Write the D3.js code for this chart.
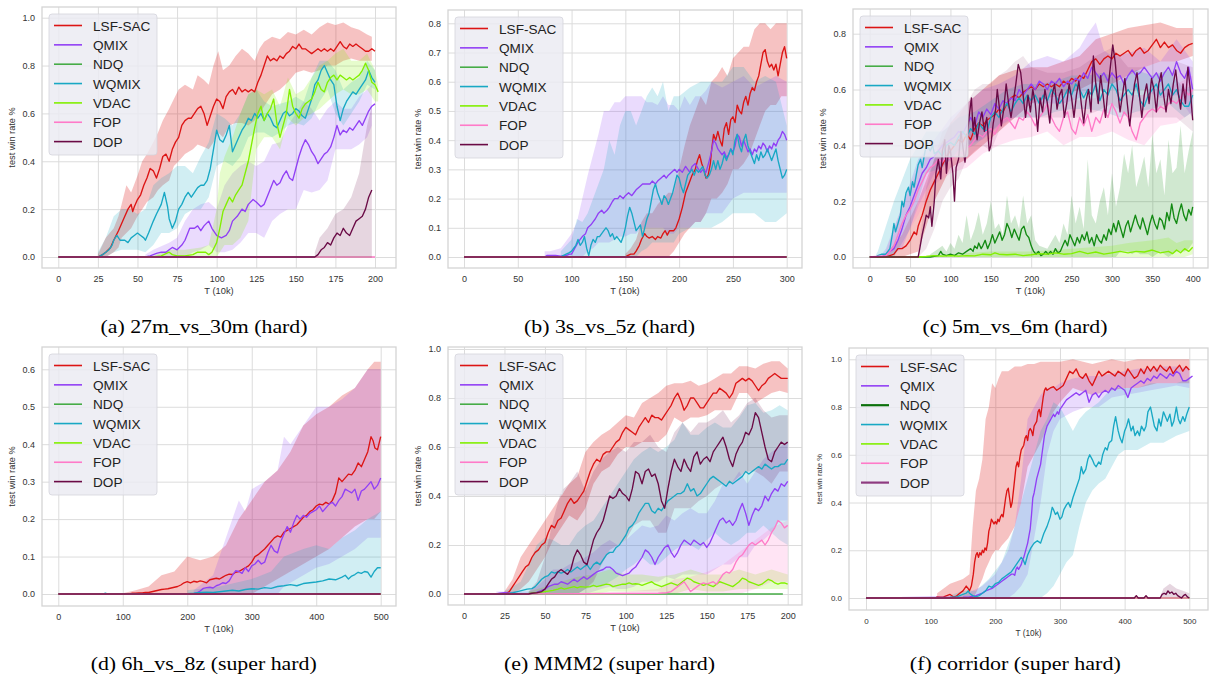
<!DOCTYPE html>
<html><head><meta charset="utf-8">
<script src="https://cdn.jsdelivr.net/npm/d3@7"></script>
<style>body{margin:0;background:#fff;} svg{display:block;}</style>
</head><body><svg id="c" width="1210" height="677"></svg>
<script>
// ---------- categories ----------
const seriesNames = ["LSF-SAC","QMIX","NDQ","WQMIX","VDAC","FOP","DOP"];
const seriesColors = ["#dc1414","#9140f5","#46ac46","#18a8c4","#82ef00","#ff7ac8","#6a0a45"];
const bandAlpha = [0.26,0.19,0.2,0.2,0.2,0.2,0.17];

// ---------- (a) 27m_vs_30m ----------
const a_lsf = [[0,0],[25,0],[28,0.01],[30,0.02],[33,0.04],[35,0.07],[38,0.11],[40,0.14],[42,0.17],[44,0.2],[46,0.22],[47,0.19],[48,0.21],[50,0.24],[52,0.26],[54,0.3],[56,0.33],[58,0.37],[60,0.36],[62,0.33],[64,0.37],[66,0.42],[68,0.43],[70,0.4],[72,0.45],[74,0.48],[76,0.5],[78,0.55],[80,0.57],[82,0.58],[84,0.58],[86,0.6],[88,0.62],[90,0.63],[92,0.6],[94,0.55],[96,0.59],[98,0.63],[100,0.66],[102,0.65],[104,0.62],[106,0.67],[108,0.69],[110,0.7],[112,0.68],[114,0.71],[116,0.69],[118,0.7],[120,0.69],[122,0.7],[124,0.69],[126,0.73],[128,0.76],[130,0.8],[132,0.84],[134,0.82],[136,0.83],[138,0.82],[140,0.84],[142,0.83],[144,0.85],[146,0.86],[148,0.88],[150,0.87],[152,0.89],[154,0.87],[156,0.87],[158,0.86],[160,0.85],[162,0.86],[164,0.87],[166,0.86],[168,0.87],[170,0.86],[172,0.87],[174,0.86],[176,0.88],[178,0.9],[180,0.88],[182,0.87],[184,0.89],[186,0.88],[188,0.89],[190,0.88],[192,0.87],[194,0.86],[196,0.86],[198,0.87],[200,0.86]];
const a_lsf_band = [[25,0,0.01],[30,0,0.08],[35,0.02,0.12],[38,0.04,0.17],[40,0.08,0.22],[43,0.1,0.3],[46,0.12,0.27],[50,0.17,0.34],[53,0.2,0.4],[56,0.23,0.43],[60,0.25,0.48],[63,0.28,0.52],[66,0.3,0.57],[70,0.32,0.62],[73,0.38,0.66],[76,0.4,0.7],[80,0.43,0.72],[85,0.45,0.7],[88,0.47,0.76],[92,0.46,0.74],[95,0.45,0.72],[98,0.48,0.8],[101,0.52,0.86],[104,0.5,0.78],[108,0.55,0.8],[112,0.56,0.84],[116,0.56,0.87],[120,0.55,0.85],[124,0.57,0.82],[127,0.6,0.87],[130,0.63,0.9],[135,0.68,0.92],[140,0.7,0.91],[145,0.73,0.94],[150,0.77,0.93],[155,0.78,0.95],[160,0.77,0.93],[165,0.78,0.96],[170,0.8,0.98],[175,0.8,0.97],[180,0.82,0.98],[185,0.83,0.96],[190,0.82,0.95],[195,0.82,0.93],[198,0.82,0.92]];
const a_qmix = [[0,0],[55,0],[58,0.005],[62,0.015],[65,0.02],[68,0.02],[70,0.03],[72,0.04],[75,0.03],[78,0.05],[80,0.07],[83,0.12],[86,0.12],[88,0.13],[90,0.11],[92,0.13],[95,0.15],[97,0.12],[100,0.09],[103,0.08],[106,0.09],[108,0.11],[110,0.15],[113,0.17],[116,0.2],[118,0.19],[120,0.22],[123,0.24],[125,0.23],[128,0.21],[130,0.22],[133,0.27],[136,0.32],[138,0.3],[140,0.31],[142,0.34],[144,0.36],[146,0.33],[148,0.32],[150,0.37],[152,0.42],[154,0.46],[156,0.49],[158,0.47],[160,0.44],[162,0.42],[164,0.39],[166,0.41],[168,0.43],[170,0.44],[172,0.46],[174,0.5],[176,0.55],[178,0.51],[180,0.53],[182,0.52],[184,0.54],[186,0.53],[188,0.55],[190,0.57],[192,0.55],[194,0.58],[196,0.61],[198,0.63],[200,0.64]];
const a_qmix_band = [[55,0,0.01],[60,0,0.03],[70,0,0.06],[75,0,0.08],[80,0,0.15],[85,0.02,0.2],[90,0.03,0.22],[95,0.05,0.23],[100,0.02,0.2],[105,0.02,0.3],[110,0.03,0.35],[115,0.06,0.38],[120,0.1,0.4],[125,0.1,0.38],[130,0.08,0.4],[135,0.15,0.47],[140,0.18,0.48],[145,0.2,0.55],[150,0.2,0.6],[155,0.28,0.65],[160,0.27,0.62],[165,0.28,0.57],[170,0.32,0.62],[175,0.45,0.65],[180,0.45,0.62],[185,0.45,0.62],[190,0.47,0.67],[195,0.5,0.7],[198,0.55,0.72]];
const a_ndq = [[0,0],[198,0]];
const a_wq = [[0,0],[25,0],[28,0.01],[30,0.02],[32,0.03],[34,0.05],[35,0.07],[37,0.09],[39,0.07],[42,0.07],[44,0.06],[46,0.08],[48,0.09],[50,0.1],[52,0.09],[54,0.08],[55,0.07],[57,0.1],[60,0.15],[62,0.18],[65,0.22],[67,0.27],[69,0.21],[70,0.16],[72,0.12],[74,0.15],[76,0.2],[78,0.22],[80,0.25],[82,0.27],[84,0.25],[86,0.27],[88,0.29],[90,0.3],[92,0.3],[94,0.32],[96,0.37],[98,0.45],[100,0.53],[102,0.49],[104,0.48],[106,0.51],[108,0.55],[110,0.44],[112,0.47],[114,0.5],[116,0.53],[118,0.55],[120,0.58],[122,0.57],[124,0.6],[126,0.58],[128,0.6],[130,0.57],[132,0.6],[134,0.58],[136,0.55],[138,0.54],[140,0.57],[142,0.6],[144,0.61],[146,0.59],[148,0.6],[150,0.62],[152,0.61],[154,0.59],[156,0.58],[158,0.62],[160,0.66],[162,0.72],[164,0.74],[166,0.78],[168,0.8],[170,0.77],[172,0.74],[174,0.72],[176,0.63],[178,0.57],[180,0.62],[182,0.65],[184,0.67],[186,0.69],[188,0.68],[190,0.7],[192,0.72],[194,0.74],[196,0.78],[198,0.75],[200,0.73]];
const a_wq_band = [[25,0,0.02],[30,0,0.08],[35,0.02,0.17],[40,0.03,0.2],[45,0.03,0.2],[50,0.03,0.18],[55,0.02,0.2],[60,0.05,0.3],[65,0.1,0.33],[70,0.1,0.35],[75,0.12,0.38],[80,0.18,0.38],[85,0.2,0.35],[90,0.2,0.42],[95,0.25,0.48],[100,0.38,0.6],[105,0.4,0.58],[110,0.38,0.55],[115,0.42,0.6],[120,0.5,0.68],[125,0.52,0.7],[130,0.52,0.65],[135,0.5,0.63],[140,0.52,0.64],[145,0.55,0.65],[150,0.56,0.67],[155,0.55,0.65],[160,0.58,0.75],[165,0.65,0.82],[170,0.7,0.82],[175,0.6,0.78],[180,0.55,0.7],[185,0.6,0.73],[190,0.65,0.75],[195,0.72,0.82],[200,0.7,0.78]];
const a_vdac = [[0,0],[60,0],[65,0.005],[70,0.02],[72,0.01],[75,0.005],[80,0.005],[85,0.01],[88,0.02],[90,0.02],[93,0.02],[95,0.01],[97,0.02],[100,0.06],[102,0.12],[104,0.19],[106,0.22],[108,0.25],[110,0.23],[112,0.26],[114,0.28],[116,0.3],[118,0.35],[120,0.4],[122,0.47],[124,0.54],[126,0.6],[128,0.63],[130,0.57],[132,0.6],[134,0.62],[136,0.66],[138,0.56],[140,0.5],[142,0.55],[144,0.6],[146,0.7],[148,0.63],[150,0.6],[152,0.58],[154,0.62],[156,0.64],[158,0.65],[160,0.66],[162,0.69],[164,0.73],[166,0.7],[168,0.69],[170,0.73],[172,0.75],[174,0.76],[176,0.74],[178,0.76],[180,0.75],[182,0.74],[184,0.75],[186,0.74],[188,0.75],[190,0.76],[192,0.78],[194,0.81],[196,0.78],[198,0.73],[200,0.72],[202,0.69]];
const a_vdac_band = [[60,0,0.005],[70,0,0.03],[80,0,0.03],[90,0,0.04],[95,0,0.05],[100,0,0.2],[102,0.02,0.35],[105,0.05,0.42],[110,0.05,0.5],[115,0.08,0.6],[120,0.15,0.68],[125,0.45,0.7],[130,0.5,0.68],[135,0.5,0.7],[140,0.45,0.63],[145,0.58,0.75],[150,0.55,0.68],[155,0.58,0.7],[160,0.6,0.75],[165,0.62,0.8],[170,0.65,0.82],[175,0.68,0.85],[180,0.7,0.87],[185,0.68,0.82],[190,0.68,0.82],[195,0.7,0.85],[200,0.65,0.78],[202,0.65,0.72]];
const a_fop = [[0,0],[200,0]];
const a_dop = [[0,0],[162,0],[164,0.01],[166,0.03],[168,0.04],[170,0.06],[172,0.05],[174,0.08],[176,0.1],[178,0.09],[180,0.12],[182,0.1],[184,0.09],[186,0.12],[188,0.15],[190,0.16],[192,0.17],[194,0.2],[196,0.25],[198,0.28]];
const a_dop_band = [[162,0,0.02],[165,0,0.08],[170,0,0.12],[175,0,0.18],[180,0,0.2],[185,0,0.25],[190,0,0.35],[195,0,0.55],[198,0,0.63]];

// ---------- (b) 3s_vs_5z ----------
const b_lsf = [[0,0],[150,0],[152,0.005],[155,0.01],[158,0.01],[160,0.02],[163,0.04],[165,0.06],[168,0.08],[170,0.07],[172,0.065],[175,0.07],[178,0.06],[180,0.07],[183,0.065],[185,0.08],[187,0.09],[189,0.075],[191,0.09],[193,0.09],[195,0.09],[197,0.1],[200,0.13],[203,0.17],[206,0.22],[209,0.25],[212,0.28],[215,0.3],[217,0.33],[219,0.35],[221,0.32],[223,0.3],[225,0.27],[227,0.28],[229,0.32],[230,0.36],[232,0.42],[234,0.4],[236,0.43],[238,0.4],[240,0.38],[242,0.44],[244,0.46],[246,0.42],[248,0.47],[250,0.48],[252,0.46],[254,0.52],[256,0.5],[258,0.49],[260,0.53],[262,0.55],[264,0.52],[266,0.56],[268,0.58],[270,0.57],[272,0.6],[274,0.62],[276,0.66],[278,0.7],[280,0.71],[282,0.67],[284,0.65],[286,0.66],[288,0.64],[290,0.66],[292,0.62],[294,0.66],[296,0.7],[298,0.72],[300,0.68]];
const b_lsf_band = [[150,0,0.01],[155,0,0.03],[160,0,0.06],[165,0,0.12],[170,0,0.15],[175,0,0.15],[180,0,0.18],[185,0,0.2],[190,0,0.22],[195,0.02,0.22],[200,0.05,0.3],[205,0.08,0.38],[210,0.1,0.45],[215,0.12,0.5],[220,0.12,0.55],[225,0.15,0.52],[230,0.2,0.6],[235,0.2,0.62],[240,0.22,0.65],[245,0.25,0.62],[250,0.3,0.68],[255,0.3,0.7],[260,0.32,0.72],[265,0.35,0.72],[270,0.4,0.78],[275,0.45,0.8],[280,0.5,0.8],[285,0.52,0.78],[290,0.52,0.8],[295,0.55,0.8],[300,0.55,0.8]];
const b_qmix = [[0,0],[75,0],[77,0.005],[80,0.005],[85,0.005],[90,0.003],[95,0.005],[98,0.01],[100,0.01],[103,0.03],[106,0.05],[108,0.06],[110,0.07],[113,0.08],[115,0.1],[118,0.11],[120,0.12],[122,0.13],[125,0.15],[128,0.16],[130,0.15],[133,0.16],[135,0.17],[138,0.19],[140,0.2],[143,0.2],[145,0.21],[148,0.2],[150,0.21],[153,0.22],[156,0.21],[158,0.22],[160,0.23],[163,0.24],[166,0.25],[170,0.25],[173,0.25],[175,0.26],[178,0.25],[180,0.26],[183,0.27],[186,0.28],[188,0.27],[190,0.28],[193,0.29],[196,0.3],[198,0.29],[200,0.3],[203,0.29],[206,0.31],[208,0.3],[210,0.29],[212,0.31],[215,0.32],[218,0.3],[220,0.29],[222,0.3],[225,0.29],[228,0.33],[230,0.36],[232,0.4],[234,0.39],[236,0.37],[238,0.36],[240,0.35],[242,0.36],[244,0.34],[246,0.35],[248,0.37],[250,0.36],[252,0.38],[254,0.42],[256,0.41],[258,0.38],[260,0.4],[262,0.38],[264,0.36],[266,0.37],[268,0.35],[270,0.37],[272,0.36],[274,0.38],[276,0.37],[278,0.39],[280,0.38],[282,0.36],[284,0.38],[286,0.37],[288,0.39],[290,0.38],[292,0.4],[294,0.41],[296,0.43],[298,0.42],[300,0.4]];
const b_qmix_band = [[75,0,0.02],[80,0,0.02],[90,0,0.03],[100,0,0.08],[105,0,0.12],[110,0,0.2],[115,0.02,0.28],[120,0.03,0.35],[125,0.05,0.42],[130,0.05,0.5],[135,0.05,0.5],[140,0.06,0.53],[145,0.07,0.53],[150,0.07,0.55],[155,0.08,0.55],[160,0.08,0.55],[165,0.1,0.55],[170,0.1,0.53],[175,0.1,0.53],[180,0.1,0.52],[185,0.1,0.55],[190,0.08,0.52],[195,0.08,0.52],[200,0.1,0.5],[205,0.1,0.55],[210,0.1,0.52],[215,0.12,0.55],[220,0.12,0.55],[225,0.15,0.57],[230,0.15,0.6],[240,0.15,0.58],[250,0.2,0.6],[260,0.22,0.62],[270,0.22,0.58],[280,0.22,0.6],[290,0.22,0.62],[300,0.22,0.6]];
const b_ndq = [[0,0],[300,0]];
const b_wq = [[0,0],[90,0],[92,0.005],[95,0.01],[98,0.015],[100,0.02],[102,0.03],[104,0.04],[106,0.06],[108,0.04],[110,0.05],[112,0.07],[114,0.03],[116,0.005],[118,0.04],[120,0.06],[122,0.05],[124,0.07],[126,0.07],[128,0.08],[130,0.09],[132,0.1],[134,0.09],[136,0.07],[138,0.08],[140,0.06],[142,0.07],[144,0.06],[146,0.05],[148,0.07],[150,0.1],[152,0.14],[154,0.17],[156,0.15],[158,0.12],[160,0.09],[162,0.1],[164,0.11],[166,0.07],[168,0.1],[170,0.13],[172,0.15],[174,0.19],[176,0.23],[178,0.25],[180,0.22],[182,0.2],[184,0.18],[186,0.21],[188,0.2],[190,0.18],[192,0.2],[194,0.22],[196,0.25],[198,0.28],[200,0.27],[202,0.24],[204,0.22],[206,0.25],[208,0.28],[210,0.29],[212,0.3],[214,0.28],[216,0.3],[218,0.29],[220,0.3],[222,0.31],[224,0.28],[226,0.27],[228,0.28],[230,0.3],[232,0.33],[234,0.3],[236,0.33],[238,0.3],[240,0.32],[242,0.35],[244,0.33],[246,0.35],[248,0.37],[250,0.35],[252,0.4],[254,0.42],[256,0.38],[258,0.36],[260,0.4],[262,0.42],[264,0.38],[266,0.36],[268,0.34],[270,0.32],[272,0.35],[274,0.33],[276,0.36],[278,0.34],[280,0.35],[282,0.37],[284,0.35],[286,0.33],[288,0.35],[290,0.37],[292,0.33],[294,0.3],[296,0.27],[298,0.28],[300,0.3]];
const b_wq_band = [[90,0,0.02],[100,0,0.06],[105,0,0.13],[110,0,0.12],[115,0,0.15],[120,0,0.2],[125,0,0.25],[130,0,0.3],[135,0,0.4],[140,0,0.35],[145,0,0.45],[150,0,0.5],[155,0,0.5],[160,0,0.45],[165,0.02,0.5],[170,0.03,0.55],[175,0.05,0.58],[180,0.05,0.55],[185,0.05,0.6],[190,0.05,0.5],[195,0.05,0.55],[200,0.08,0.55],[210,0.1,0.58],[220,0.1,0.6],[230,0.1,0.6],[240,0.12,0.6],[250,0.15,0.65],[260,0.15,0.65],[270,0.15,0.6],[280,0.12,0.62],[290,0.12,0.6],[300,0.15,0.45]];
const b_vdac = [[0,0],[300,0]];
const b_fop = [[0,0],[300,0]];
const b_dop = [[0,0],[300,0]];

// ---------- (c) 5m_vs_6m ----------
const c_lsf = [[0,0],[20,0],[25,0.005],[30,0.01],[35,0.03],[40,0.03],[45,0.04],[50,0.06],[55,0.09],[58,0.08],[60,0.11],[65,0.15],[70,0.2],[75,0.24],[80,0.27],[85,0.3],[90,0.33],[95,0.36],[100,0.38],[105,0.4],[110,0.42],[115,0.41],[120,0.44],[125,0.42],[130,0.46],[135,0.48],[140,0.47],[145,0.49],[150,0.5],[155,0.51],[160,0.53],[165,0.52],[170,0.55],[175,0.57],[180,0.58],[185,0.57],[190,0.59],[195,0.6],[200,0.61],[205,0.6],[210,0.62],[215,0.61],[220,0.62],[225,0.61],[230,0.62],[235,0.61],[240,0.63],[245,0.62],[250,0.64],[255,0.63],[260,0.65],[265,0.64],[270,0.67],[275,0.7],[280,0.71],[285,0.69],[290,0.71],[295,0.72],[300,0.71],[305,0.73],[310,0.72],[315,0.73],[320,0.74],[325,0.72],[330,0.74],[335,0.75],[340,0.73],[345,0.74],[350,0.76],[355,0.78],[360,0.75],[365,0.77],[370,0.75],[375,0.76],[380,0.74],[385,0.73],[390,0.75],[395,0.76],[400,0.765]];
const c_lsf_band = [[20,0,0.01],[40,0,0.08],[60,0.02,0.2],[80,0.2,0.35],[100,0.32,0.48],[120,0.35,0.55],[140,0.4,0.6],[160,0.45,0.65],[180,0.5,0.67],[200,0.55,0.68],[220,0.57,0.68],[240,0.58,0.7],[260,0.6,0.72],[280,0.63,0.78],[300,0.62,0.8],[320,0.65,0.82],[340,0.68,0.83],[360,0.7,0.84],[380,0.7,0.82],[400,0.72,0.82]];
const c_qmix = [[0,0],[15,0],[20,0.01],[25,0.02],[30,0.03],[35,0.06],[40,0.1],[45,0.15],[50,0.18],[55,0.22],[60,0.26],[65,0.3],[70,0.32],[75,0.35],[80,0.36],[85,0.38],[90,0.4],[95,0.41],[100,0.42],[105,0.43],[110,0.45],[115,0.44],[120,0.47],[125,0.5],[130,0.47],[135,0.52],[140,0.5],[145,0.53],[150,0.51],[155,0.55],[160,0.53],[165,0.56],[170,0.55],[175,0.57],[180,0.56],[185,0.6],[190,0.58],[195,0.6],[200,0.62],[205,0.6],[210,0.63],[215,0.62],[220,0.6],[225,0.63],[230,0.62],[235,0.64],[240,0.61],[245,0.63],[250,0.62],[255,0.64],[260,0.63],[265,0.66],[270,0.64],[275,0.68],[280,0.66],[285,0.64],[290,0.66],[295,0.63],[300,0.66],[305,0.64],[310,0.65],[315,0.62],[320,0.65],[325,0.67],[330,0.65],[335,0.66],[340,0.68],[345,0.66],[350,0.64],[355,0.66],[360,0.63],[365,0.66],[370,0.68],[375,0.65],[380,0.7],[385,0.66],[390,0.64],[395,0.68],[400,0.6]];
const c_qmix_band = [[15,0,0.01],[20,0,0.03],[40,0.03,0.18],[60,0.18,0.35],[80,0.3,0.42],[100,0.35,0.5],[120,0.4,0.55],[140,0.42,0.6],[160,0.47,0.62],[180,0.5,0.65],[200,0.55,0.7],[220,0.55,0.72],[240,0.55,0.7],[260,0.57,0.75],[270,0.6,0.8],[280,0.6,0.84],[290,0.6,0.74],[300,0.6,0.72],[320,0.6,0.73],[340,0.6,0.75],[360,0.57,0.7],[380,0.58,0.78],[400,0.5,0.7]];
const c_ndq = [[0,0],[75,0],[85,0.005],[88,0.02],[90,0.01],[95,0.005],[100,0.01],[105,0.005],[110,0.015],[115,0.01],[120,0.02],[125,0.03],[128,0.02],[130,0.04],[133,0.03],[135,0.05],[138,0.03],[140,0.04],[143,0.06],[146,0.03],[149,0.05],[152,0.08],[155,0.05],[158,0.07],[161,0.09],[164,0.06],[167,0.08],[170,0.12],[173,0.1],[176,0.07],[179,0.1],[182,0.08],[185,0.06],[188,0.1],[191,0.11],[194,0.08],[197,0.07],[200,0.04],[203,0.02],[206,0.01],[209,0.02],[212,0.005],[215,0.01],[218,0.02],[221,0.01],[224,0.02],[227,0.01],[230,0.03],[233,0.015],[236,0.02],[239,0.04],[242,0.06],[245,0.04],[248,0.08],[251,0.06],[254,0.04],[257,0.07],[260,0.05],[263,0.08],[266,0.06],[269,0.09],[272,0.05],[275,0.07],[278,0.04],[281,0.08],[284,0.06],[287,0.05],[290,0.08],[293,0.06],[296,0.1],[299,0.08],[302,0.12],[305,0.09],[308,0.13],[311,0.1],[314,0.07],[317,0.11],[320,0.13],[323,0.09],[326,0.12],[329,0.15],[332,0.12],[335,0.1],[338,0.14],[341,0.11],[344,0.08],[347,0.12],[350,0.15],[353,0.12],[356,0.1],[359,0.14],[362,0.13],[365,0.1],[368,0.16],[371,0.13],[374,0.19],[377,0.14],[380,0.12],[383,0.16],[386,0.19],[389,0.15],[392,0.13],[395,0.17],[398,0.15],[400,0.18]];
const c_ndq_band = [[75,0,0.01],[85,0,0.03],[90,0,0.04],[95,0,0.02],[100,0,0.05],[105,0,0.03],[110,0,0.08],[115,0,0.05],[120,0,0.15],[125,0,0.06],[130,0,0.1],[135,0,0.16],[140,0,0.08],[145,0,0.12],[150,0,0.2],[155,0,0.1],[160,0,0.12],[165,0,0.08],[170,0,0.22],[175,0,0.12],[180,0,0.15],[185,0,0.1],[190,0,0.22],[195,0,0.12],[200,0,0.15],[205,0,0.06],[210,0,0.04],[220,0,0.03],[230,0,0.08],[235,0,0.05],[240,0,0.12],[245,0,0.08],[250,0,0.22],[255,0,0.12],[260,0,0.18],[265,0,0.1],[270,0,0.35],[275,0,0.15],[280,0,0.12],[285,0,0.2],[290,0,0.25],[295,0,0.15],[300,0,0.3],[305,0,0.18],[310,0.02,0.25],[315,0.02,0.37],[320,0.02,0.3],[325,0.01,0.4],[330,0.02,0.25],[335,0.01,0.3],[340,0.01,0.36],[345,0.01,0.25],[350,0,0.44],[355,0.01,0.3],[360,0.02,0.35],[365,0.01,0.22],[370,0,0.42],[375,0.01,0.3],[380,0.02,0.32],[385,0.02,0.47],[390,0.02,0.3],[395,0.03,0.38],[400,0.05,0.45]];
const c_wq = [[0,0],[8,0],[10,0.005],[15,0.01],[20,0.01],[25,0.03],[28,0.08],[30,0.12],[32,0.09],[35,0.12],[38,0.15],[40,0.2],[42,0.18],[45,0.23],[48,0.25],[50,0.22],[53,0.27],[55,0.25],[58,0.3],[60,0.33],[63,0.35],[65,0.32],[68,0.37],[70,0.4],[73,0.39],[75,0.38],[78,0.4],[80,0.37],[85,0.38],[90,0.36],[95,0.4],[100,0.41],[105,0.4],[110,0.43],[115,0.45],[120,0.43],[125,0.46],[130,0.44],[135,0.48],[140,0.46],[145,0.45],[150,0.5],[155,0.52],[160,0.5],[165,0.53],[170,0.55],[175,0.52],[180,0.55],[185,0.57],[190,0.55],[195,0.58],[200,0.56],[205,0.58],[210,0.55],[215,0.58],[220,0.56],[225,0.6],[230,0.58],[235,0.55],[240,0.57],[245,0.6],[250,0.58],[255,0.62],[260,0.6],[265,0.57],[270,0.6],[275,0.58],[280,0.62],[285,0.56],[290,0.6],[295,0.58],[300,0.62],[305,0.6],[310,0.56],[315,0.58],[320,0.6],[325,0.58],[330,0.62],[335,0.56],[340,0.54],[345,0.58],[350,0.6],[355,0.62],[360,0.58],[365,0.6],[370,0.62],[375,0.58],[380,0.6],[385,0.56],[390,0.54],[395,0.54],[400,0.58]];
const c_wq_band = [[8,0,0.01],[10,0,0.02],[30,0,0.2],[50,0.1,0.35],[70,0.3,0.45],[90,0.32,0.45],[110,0.38,0.5],[130,0.4,0.52],[150,0.45,0.56],[170,0.5,0.6],[190,0.5,0.62],[210,0.5,0.62],[230,0.52,0.63],[250,0.53,0.65],[270,0.53,0.65],[290,0.52,0.66],[310,0.5,0.63],[330,0.52,0.67],[350,0.53,0.65],[370,0.55,0.67],[390,0.5,0.6],[400,0.52,0.62]];
const c_vdac = [[0,0],[60,0],[70,0.002],[80,0.005],[90,0.003],[100,0.005],[110,0.003],[120,0.005],[130,0.004],[140,0.01],[150,0.008],[155,0.015],[160,0.01],[170,0.008],[180,0.01],[190,0.005],[200,0.008],[210,0.012],[220,0.01],[230,0.015],[240,0.01],[250,0.012],[260,0.02],[270,0.012],[280,0.018],[290,0.01],[300,0.015],[310,0.02],[320,0.015],[330,0.02],[340,0.018],[350,0.025],[360,0.015],[370,0.02],[375,0.012],[380,0.025],[385,0.015],[390,0.03],[395,0.02],[400,0.035]];
const c_vdac_band = [[60,0,0.003],[100,0,0.01],[150,0,0.02],[200,0,0.02],[250,0,0.03],[300,0,0.04],[320,0,0.05],[350,0,0.06],[370,0,0.07],[380,0,0.05],[390,0,0.06],[400,0.01,0.06]];
const c_fop = [[0,0],[20,0.005],[25,0.02],[30,0.04],[35,0.08],[40,0.12],[45,0.15],[50,0.17],[55,0.2],[60,0.24],[65,0.27],[70,0.3],[75,0.32],[80,0.33],[85,0.35],[90,0.34],[95,0.36],[100,0.35],[105,0.36],[110,0.38],[115,0.37],[120,0.39],[125,0.4],[130,0.42],[135,0.44],[140,0.43],[145,0.45],[150,0.46],[155,0.44],[160,0.47],[165,0.49],[170,0.5],[175,0.48],[180,0.46],[185,0.5],[190,0.49],[195,0.52],[200,0.5],[205,0.47],[210,0.5],[215,0.52],[220,0.55],[225,0.5],[230,0.47],[235,0.45],[240,0.5],[245,0.52],[250,0.46],[255,0.44],[260,0.5],[265,0.47],[270,0.51],[275,0.45],[280,0.5],[285,0.48],[290,0.53],[295,0.5],[300,0.55],[305,0.52],[310,0.48],[315,0.52],[320,0.5],[325,0.45],[330,0.42],[335,0.48],[340,0.5],[345,0.52],[350,0.53],[355,0.52],[360,0.54],[365,0.53],[370,0.55],[375,0.56],[380,0.55],[385,0.57],[390,0.6],[395,0.58],[400,0.6]];
const c_fop_band = [[20,0,0.02],[40,0.05,0.18],[60,0.15,0.32],[80,0.26,0.4],[100,0.3,0.42],[120,0.32,0.45],[140,0.37,0.5],[160,0.4,0.55],[180,0.42,0.55],[200,0.43,0.57],[220,0.45,0.6],[240,0.4,0.58],[260,0.43,0.56],[280,0.43,0.57],[300,0.45,0.6],[320,0.42,0.58],[340,0.4,0.58],[360,0.47,0.6],[380,0.48,0.62],[400,0.52,0.65]];
const c_dop = [[0,0],[60,0],[62,0.03],[65,0.08],[68,0.12],[70,0.15],[73,0.14],[75,0.18],[77,0.11],[80,0.2],[82,0.3],[85,0.35],[88,0.28],[90,0.38],[93,0.42],[95,0.3],[98,0.4],[100,0.38],[103,0.3],[105,0.2],[107,0.32],[110,0.35],[113,0.45],[116,0.38],[118,0.34],[120,0.4],[123,0.5],[126,0.57],[128,0.45],[130,0.5],[133,0.42],[136,0.48],[139,0.52],[142,0.45],[145,0.5],[148,0.38],[150,0.4],[153,0.48],[156,0.53],[158,0.6],[160,0.55],[163,0.47],[166,0.53],[169,0.62],[172,0.55],[175,0.5],[178,0.56],[181,0.62],[184,0.69],[187,0.66],[190,0.58],[193,0.5],[196,0.58],[199,0.52],[202,0.6],[205,0.55],[208,0.45],[211,0.57],[214,0.52],[217,0.6],[220,0.55],[223,0.48],[226,0.58],[229,0.62],[232,0.53],[235,0.58],[238,0.6],[241,0.5],[244,0.55],[247,0.62],[250,0.57],[253,0.5],[256,0.58],[259,0.63],[262,0.55],[265,0.48],[268,0.56],[271,0.6],[274,0.52],[277,0.72],[280,0.62],[283,0.55],[286,0.65],[289,0.58],[292,0.5],[295,0.6],[298,0.68],[301,0.76],[304,0.7],[307,0.6],[310,0.52],[313,0.58],[316,0.64],[319,0.55],[322,0.47],[325,0.55],[328,0.62],[331,0.66],[334,0.58],[337,0.5],[340,0.58],[343,0.62],[346,0.55],[349,0.64],[352,0.6],[355,0.52],[358,0.62],[361,0.66],[364,0.58],[367,0.52],[370,0.6],[373,0.55],[376,0.62],[379,0.67],[382,0.59],[385,0.53],[388,0.62],[391,0.55],[394,0.68],[397,0.6],[400,0.49]];
const c_dop_band = [[60,0,0.01],[70,0.03,0.25],[80,0.1,0.35],[90,0.2,0.45],[100,0.25,0.47],[110,0.28,0.5],[120,0.35,0.55],[130,0.38,0.6],[140,0.4,0.62],[150,0.38,0.62],[160,0.45,0.65],[170,0.48,0.67],[180,0.5,0.7],[190,0.5,0.72],[200,0.5,0.68],[220,0.5,0.66],[240,0.5,0.66],[260,0.5,0.68],[280,0.52,0.72],[300,0.55,0.75],[320,0.5,0.68],[340,0.5,0.68],[360,0.5,0.7],[380,0.5,0.7],[400,0.45,0.68]];

// ---------- (d) 6h_vs_8z ----------
const d_lsf = [[0,0],[110,0],[115,0.002],[120,0.002],[125,0.003],[130,0.003],[135,0.004],[140,0.004],[145,0.006],[150,0.008],[155,0.01],[160,0.012],[165,0.013],[170,0.014],[175,0.016],[180,0.018],[185,0.02],[190,0.024],[195,0.03],[200,0.033],[205,0.03],[210,0.034],[215,0.032],[220,0.035],[225,0.033],[230,0.03],[235,0.038],[240,0.04],[245,0.042],[250,0.04],[255,0.045],[260,0.05],[265,0.053],[270,0.052],[275,0.058],[280,0.06],[285,0.065],[290,0.07],[295,0.075],[300,0.085],[305,0.1],[310,0.105],[315,0.113],[320,0.12],[325,0.13],[330,0.14],[335,0.15],[340,0.155],[345,0.152],[350,0.165],[355,0.17],[360,0.175],[365,0.18],[370,0.185],[375,0.195],[380,0.205],[385,0.21],[390,0.22],[395,0.225],[400,0.235],[405,0.24],[410,0.238],[415,0.245],[420,0.24],[425,0.25],[430,0.27],[435,0.31],[440,0.3],[445,0.31],[450,0.32],[455,0.318],[460,0.33],[465,0.35],[470,0.34],[475,0.36],[480,0.38],[485,0.42],[488,0.41],[491,0.39],[495,0.385],[500,0.42]];
const d_lsf_band = [[100,0,0.002],[120,0,0.01],[140,0,0.02],[160,0,0.05],[180,0,0.06],[200,0,0.1],[220,0,0.09],[240,0,0.1],[260,0,0.13],[280,0,0.2],[300,0,0.25],[320,0.02,0.3],[340,0.04,0.33],[360,0.06,0.38],[380,0.08,0.45],[400,0.1,0.48],[420,0.12,0.5],[440,0.15,0.53],[460,0.18,0.55],[480,0.2,0.6],[490,0.2,0.62],[500,0.22,0.62]];
const d_qmix = [[0,0],[210,0],[215,0.003],[220,0.008],[225,0.015],[230,0.017],[235,0.018],[240,0.016],[245,0.022],[250,0.025],[255,0.03],[260,0.028],[265,0.035],[270,0.05],[275,0.062],[280,0.06],[285,0.055],[290,0.07],[295,0.06],[300,0.075],[305,0.08],[310,0.09],[315,0.08],[320,0.085],[325,0.11],[330,0.13],[335,0.115],[340,0.11],[345,0.14],[350,0.16],[355,0.18],[360,0.165],[365,0.19],[370,0.21],[375,0.2],[380,0.21],[385,0.205],[390,0.215],[395,0.22],[400,0.225],[405,0.235],[410,0.22],[415,0.23],[420,0.24],[425,0.245],[430,0.235],[435,0.25],[440,0.26],[445,0.28],[450,0.275],[455,0.27],[460,0.28],[465,0.25],[470,0.275],[475,0.28],[480,0.29],[485,0.3],[490,0.28],[495,0.29],[500,0.31]];
const d_qmix_band = [[210,0,0.01],[240,0,0.05],[270,0,0.2],[280,0,0.25],[290,0,0.22],[300,0,0.28],[320,0,0.3],[340,0,0.33],[350,0.02,0.42],[360,0.03,0.4],[380,0.05,0.45],[400,0.07,0.5],[420,0.08,0.5],[440,0.1,0.52],[460,0.12,0.55],[480,0.15,0.6],[500,0.15,0.6]];
const d_ndq = [[0,0],[500,0]];
const d_wq = [[0,0],[70,0],[73,0.002],[76,0],[200,0.001],[210,0.002],[220,0.004],[230,0.005],[240,0.004],[250,0.006],[260,0.008],[270,0.01],[280,0.008],[290,0.012],[300,0.014],[310,0.013],[320,0.017],[330,0.015],[340,0.02],[350,0.022],[360,0.025],[370,0.022],[380,0.028],[390,0.03],[400,0.032],[410,0.035],[420,0.04],[430,0.038],[440,0.045],[445,0.05],[450,0.04],[455,0.048],[460,0.052],[465,0.058],[470,0.055],[475,0.06],[480,0.058],[485,0.045],[490,0.06],[495,0.07],[500,0.07]];
const d_wq_band = [[200,0,0.01],[250,0,0.02],[300,0,0.04],[330,0,0.06],[350,0,0.1],[380,0,0.12],[400,0,0.13],[420,0,0.12],[440,0,0.15],[460,0,0.17],[480,0,0.2],[500,0,0.22]];
const d_vdac = [[0,0],[500,0]];
const d_fop = [[0,0],[500,0]];
const d_dop = [[0,0],[500,0]];

// ---------- (e) MMM2 ----------
const e_lsf = [[0,0],[25,0],[26,0.002],[28,0.01],[30,0.03],[32,0.05],[34,0.07],[36,0.09],[38,0.11],[40,0.12],[42,0.15],[44,0.17],[46,0.18],[48,0.2],[50,0.21],[52,0.25],[54,0.28],[56,0.27],[58,0.3],[60,0.31],[62,0.34],[64,0.37],[66,0.39],[68,0.37],[70,0.38],[72,0.4],[74,0.42],[76,0.46],[78,0.5],[80,0.53],[82,0.55],[84,0.54],[86,0.57],[88,0.58],[90,0.58],[92,0.6],[94,0.62],[96,0.63],[98,0.66],[100,0.68],[102,0.67],[104,0.66],[106,0.65],[108,0.68],[110,0.7],[112,0.72],[114,0.7],[116,0.73],[118,0.72],[120,0.72],[122,0.71],[124,0.73],[126,0.75],[128,0.77],[130,0.8],[132,0.82],[134,0.79],[136,0.75],[138,0.77],[140,0.8],[142,0.8],[144,0.78],[146,0.76],[148,0.76],[150,0.78],[152,0.8],[154,0.82],[156,0.82],[158,0.84],[160,0.83],[162,0.82],[164,0.8],[166,0.82],[168,0.86],[170,0.87],[172,0.88],[174,0.87],[176,0.88],[178,0.87],[180,0.85],[182,0.83],[184,0.85],[186,0.86],[188,0.88],[190,0.89],[192,0.9],[194,0.89],[196,0.88],[198,0.88],[200,0.88]];
const e_lsf_band = [[25,0,0.01],[30,0,0.06],[35,0.02,0.15],[40,0.05,0.2],[45,0.1,0.25],[50,0.15,0.3],[55,0.22,0.35],[60,0.27,0.4],[65,0.32,0.45],[70,0.3,0.48],[75,0.35,0.58],[80,0.45,0.62],[85,0.5,0.65],[90,0.52,0.67],[95,0.57,0.7],[100,0.6,0.73],[105,0.6,0.72],[110,0.62,0.78],[115,0.62,0.8],[120,0.62,0.82],[125,0.65,0.85],[130,0.72,0.86],[135,0.7,0.86],[140,0.72,0.87],[145,0.72,0.85],[150,0.73,0.86],[155,0.75,0.88],[160,0.75,0.9],[165,0.75,0.9],[170,0.82,0.93],[175,0.82,0.93],[180,0.78,0.92],[185,0.8,0.94],[190,0.82,0.95],[195,0.83,0.95],[200,0.82,0.92]];
const e_qmix = [[0,0],[20,0],[22,0.003],[25,0.005],[30,0.002],[35,0.001],[40,0.002],[44,0.005],[46,0.01],[48,0.015],[50,0.02],[52,0.03],[54,0.035],[56,0.04],[58,0.04],[60,0.05],[62,0.045],[64,0.04],[66,0.05],[68,0.06],[70,0.05],[72,0.06],[74,0.07],[76,0.06],[78,0.07],[80,0.08],[82,0.09],[84,0.095],[86,0.1],[88,0.11],[90,0.11],[92,0.1],[94,0.085],[96,0.08],[98,0.075],[100,0.08],[102,0.085],[104,0.1],[106,0.11],[108,0.13],[110,0.15],[112,0.18],[114,0.17],[116,0.15],[118,0.12],[120,0.15],[122,0.17],[124,0.19],[126,0.2],[128,0.17],[130,0.15],[132,0.17],[134,0.2],[136,0.22],[138,0.21],[140,0.2],[142,0.22],[144,0.21],[146,0.2],[148,0.21],[150,0.19],[152,0.21],[154,0.24],[156,0.27],[158,0.3],[160,0.31],[162,0.29],[164,0.3],[166,0.28],[168,0.3],[170,0.34],[172,0.37],[174,0.33],[176,0.28],[178,0.32],[180,0.35],[182,0.34],[184,0.36],[186,0.4],[188,0.38],[190,0.41],[192,0.43],[194,0.42],[196,0.45],[198,0.44],[200,0.46]];
const e_qmix_band = [[20,0,0.01],[30,0,0.01],[40,0,0.01],[45,0,0.03],[50,0,0.06],[55,0,0.1],[60,0,0.1],[65,0,0.12],[70,0,0.13],[75,0,0.15],[80,0.01,0.17],[85,0.02,0.2],[90,0.03,0.22],[95,0.02,0.2],[100,0.02,0.22],[105,0.03,0.25],[110,0.05,0.28],[115,0.05,0.27],[120,0.05,0.28],[125,0.07,0.32],[130,0.06,0.3],[135,0.08,0.33],[140,0.08,0.35],[145,0.08,0.33],[150,0.08,0.33],[155,0.1,0.38],[160,0.12,0.45],[165,0.12,0.45],[170,0.15,0.5],[175,0.15,0.45],[180,0.2,0.5],[185,0.22,0.55],[190,0.25,0.58],[195,0.3,0.6],[200,0.3,0.62]];
const e_ndq = [[0,0],[197,0]];
const e_wq = [[0,0],[25,0],[28,0.002],[30,0.005],[33,0.01],[36,0.015],[39,0.02],[42,0.022],[44,0.03],[46,0.045],[48,0.06],[50,0.07],[52,0.075],[54,0.09],[56,0.085],[58,0.09],[60,0.085],[62,0.09],[64,0.1],[66,0.09],[68,0.1],[70,0.11],[72,0.1],[74,0.11],[76,0.12],[78,0.1],[80,0.12],[82,0.13],[84,0.12],[86,0.14],[88,0.16],[90,0.17],[92,0.17],[94,0.19],[96,0.2],[98,0.22],[100,0.24],[102,0.27],[104,0.28],[106,0.3],[108,0.33],[110,0.35],[112,0.37],[114,0.37],[116,0.34],[118,0.33],[120,0.35],[122,0.34],[124,0.36],[126,0.38],[128,0.39],[130,0.4],[132,0.41],[134,0.41],[136,0.42],[138,0.45],[140,0.42],[142,0.43],[144,0.4],[146,0.41],[148,0.43],[150,0.45],[152,0.47],[154,0.48],[156,0.47],[158,0.46],[160,0.45],[162,0.44],[164,0.46],[166,0.45],[168,0.46],[170,0.47],[172,0.48],[174,0.5],[176,0.49],[178,0.5],[180,0.51],[182,0.52],[184,0.51],[186,0.53],[188,0.52],[190,0.51],[192,0.52],[194,0.52],[196,0.53],[198,0.53],[200,0.55]];
const e_wq_band = [[25,0,0.01],[35,0,0.05],[40,0,0.12],[45,0,0.2],[50,0,0.23],[55,0,0.22],[60,0,0.2],[65,0,0.2],[70,0,0.25],[75,0.02,0.28],[80,0.03,0.3],[85,0.03,0.35],[90,0.05,0.4],[95,0.07,0.45],[100,0.1,0.5],[105,0.12,0.55],[110,0.15,0.58],[115,0.12,0.6],[120,0.12,0.58],[125,0.15,0.6],[130,0.18,0.63],[135,0.2,0.7],[140,0.2,0.65],[145,0.18,0.65],[150,0.22,0.68],[155,0.25,0.7],[160,0.22,0.68],[165,0.2,0.68],[170,0.22,0.72],[175,0.25,0.77],[180,0.25,0.78],[185,0.28,0.74],[190,0.25,0.75],[195,0.22,0.77],[200,0.2,0.75]];
const e_vdac = [[0,0],[40,0.002],[45,0.005],[50,0.01],[55,0.015],[58,0.02],[60,0.025],[62,0.02],[65,0.025],[68,0.03],[70,0.025],[72,0.03],[75,0.028],[78,0.03],[80,0.035],[82,0.03],[85,0.035],[88,0.04],[90,0.038],[92,0.03],[95,0.035],[98,0.04],[100,0.04],[102,0.045],[104,0.04],[106,0.042],[108,0.04],[110,0.035],[112,0.04],[114,0.045],[116,0.05],[118,0.04],[120,0.035],[122,0.03],[124,0.035],[126,0.04],[128,0.045],[130,0.04],[132,0.035],[134,0.045],[136,0.055],[138,0.065],[140,0.06],[142,0.05],[144,0.045],[146,0.04],[148,0.035],[150,0.04],[152,0.035],[154,0.03],[156,0.04],[158,0.05],[160,0.045],[162,0.04],[164,0.035],[166,0.03],[168,0.04],[170,0.05],[172,0.065],[174,0.06],[176,0.05],[178,0.045],[180,0.04],[182,0.035],[184,0.04],[186,0.05],[188,0.06],[190,0.055],[192,0.045],[194,0.04],[196,0.045],[198,0.045],[200,0.04]];
const e_vdac_band = [[40,0,0.01],[50,0,0.03],[60,0,0.05],[70,0,0.07],[80,0,0.08],[90,0.01,0.1],[100,0.01,0.08],[110,0.01,0.08],[120,0.01,0.07],[130,0,0.08],[140,0.02,0.1],[150,0.01,0.08],[160,0.01,0.08],[170,0.02,0.1],[180,0.02,0.08],[190,0.02,0.1],[200,0.02,0.08]];
const e_fop = [[0,0],[75,0.001],[100,0.002],[120,0.003],[125,0.005],[128,0.01],[130,0.02],[132,0.03],[134,0.04],[136,0.05],[138,0.03],[140,0.01],[142,0.02],[144,0.03],[146,0.04],[148,0.045],[150,0.04],[152,0.045],[154,0.05],[156,0.04],[158,0.06],[160,0.08],[162,0.09],[164,0.085],[166,0.1],[168,0.13],[170,0.15],[172,0.16],[174,0.18],[176,0.2],[178,0.21],[180,0.2],[182,0.21],[184,0.22],[186,0.2],[188,0.22],[190,0.25],[192,0.27],[194,0.3],[196,0.29],[198,0.27],[200,0.28]];
const e_fop_band = [[75,0,0.005],[100,0,0.01],[120,0,0.02],[130,0,0.06],[140,0,0.07],[150,0,0.09],[160,0,0.12],[170,0,0.17],[180,0.02,0.22],[190,0.05,0.27],[200,0.05,0.3]];
const e_dop = [[0,0],[40,0],[42,0.003],[45,0.005],[48,0.01],[50,0.02],[52,0.04],[54,0.06],[56,0.07],[58,0.09],[60,0.1],[62,0.09],[64,0.08],[66,0.1],[68,0.15],[70,0.18],[72,0.16],[74,0.13],[76,0.12],[78,0.17],[80,0.22],[82,0.25],[84,0.27],[86,0.3],[88,0.35],[90,0.4],[92,0.39],[94,0.4],[96,0.43],[98,0.41],[100,0.4],[102,0.38],[104,0.43],[106,0.5],[108,0.49],[110,0.45],[112,0.5],[114,0.51],[116,0.48],[118,0.49],[120,0.45],[122,0.38],[124,0.35],[126,0.43],[128,0.5],[130,0.55],[132,0.52],[134,0.5],[136,0.55],[138,0.52],[140,0.5],[142,0.56],[144,0.58],[146,0.53],[148,0.55],[150,0.56],[152,0.54],[154,0.58],[156,0.6],[158,0.62],[160,0.64],[162,0.6],[164,0.55],[166,0.52],[168,0.57],[170,0.6],[172,0.62],[174,0.66],[176,0.65],[178,0.68],[180,0.74],[182,0.72],[184,0.66],[186,0.6],[188,0.55],[190,0.54],[192,0.58],[194,0.6],[196,0.62],[198,0.61],[200,0.62]];
const e_dop_band = [[40,0,0.01],[45,0,0.05],[50,0,0.15],[55,0,0.3],[60,0,0.42],[65,0,0.45],[70,0,0.5],[75,0.02,0.42],[80,0.05,0.5],[85,0.12,0.55],[90,0.18,0.58],[95,0.2,0.6],[100,0.22,0.58],[105,0.28,0.62],[110,0.3,0.62],[115,0.3,0.65],[120,0.25,0.6],[125,0.25,0.58],[130,0.35,0.66],[135,0.35,0.7],[140,0.35,0.66],[145,0.38,0.7],[150,0.4,0.7],[155,0.43,0.72],[160,0.45,0.75],[165,0.45,0.7],[170,0.48,0.73],[175,0.5,0.78],[180,0.5,0.8],[185,0.48,0.75],[190,0.45,0.72],[195,0.5,0.73],[200,0.5,0.73]];

// ---------- (f) corridor ----------
const f_lsf = [[0,0],[108,0],[110,0.005],[115,0.003],[120,0.005],[125,0.01],[130,0.015],[135,0.005],[140,0.008],[145,0.02],[150,0.03],[155,0.05],[158,0.04],[160,0.03],[163,0.05],[166,0.1],[168,0.15],[170,0.18],[172,0.19],[174,0.17],[176,0.19],[178,0.18],[180,0.2],[182,0.19],[184,0.21],[186,0.2],[188,0.23],[190,0.28],[192,0.3],[194,0.33],[196,0.32],[198,0.31],[200,0.32],[202,0.31],[204,0.33],[206,0.32],[208,0.34],[210,0.35],[212,0.34],[214,0.38],[216,0.42],[218,0.45],[220,0.46],[222,0.42],[224,0.38],[226,0.4],[228,0.45],[230,0.5],[232,0.55],[234,0.57],[236,0.55],[238,0.59],[240,0.62],[242,0.63],[244,0.64],[246,0.67],[248,0.68],[250,0.66],[252,0.7],[254,0.71],[256,0.7],[258,0.68],[260,0.72],[262,0.73],[264,0.74],[266,0.78],[268,0.79],[270,0.76],[272,0.8],[274,0.84],[276,0.87],[278,0.88],[280,0.87],[285,0.88],[290,0.885],[295,0.87],[300,0.88],[305,0.89],[310,0.92],[315,0.95],[320,0.94],[325,0.96],[330,0.93],[335,0.92],[340,0.94],[345,0.91],[350,0.89],[355,0.92],[360,0.95],[365,0.93],[370,0.94],[375,0.95],[380,0.94],[385,0.93],[390,0.95],[395,0.94],[400,0.93],[405,0.96],[410,0.94],[415,0.92],[420,0.93],[425,0.96],[430,0.94],[435,0.97],[440,0.95],[445,0.97],[450,0.95],[455,0.975],[460,0.96],[465,0.95],[470,0.97],[475,0.94],[480,0.96],[485,0.975],[490,0.95],[495,0.97],[500,0.955]];
const f_lsf_band = [[110,0,0.02],[130,0,0.06],[150,0,0.08],[160,0,0.1],[165,0,0.3],[170,0.02,0.45],[175,0.05,0.5],[180,0.08,0.58],[185,0.12,0.75],[190,0.15,0.8],[195,0.18,0.9],[200,0.2,0.88],[205,0.2,0.92],[210,0.22,0.95],[220,0.25,0.95],[230,0.3,0.97],[240,0.4,0.97],[250,0.55,0.98],[260,0.6,0.98],[270,0.65,0.99],[280,0.72,0.99],[290,0.78,0.99],[300,0.82,0.99],[320,0.88,1.0],[350,0.85,0.98],[380,0.87,1.0],[400,0.88,0.99],[420,0.88,1.0],[450,0.9,1.0],[480,0.9,1.0],[500,0.9,1.0]];
const f_qmix = [[0,0],[150,0.003],[160,0.005],[170,0.01],[175,0.015],[180,0.02],[185,0.03],[190,0.035],[195,0.04],[200,0.05],[205,0.06],[210,0.07],[215,0.08],[220,0.09],[225,0.1],[228,0.1],[230,0.095],[232,0.12],[234,0.13],[236,0.12],[238,0.13],[240,0.14],[242,0.16],[244,0.17],[246,0.19],[248,0.21],[250,0.23],[252,0.26],[254,0.29],[256,0.35],[258,0.42],[260,0.44],[262,0.47],[264,0.5],[266,0.52],[268,0.54],[270,0.56],[272,0.6],[274,0.64],[276,0.68],[278,0.7],[280,0.72],[282,0.73],[284,0.74],[286,0.75],[288,0.76],[290,0.77],[292,0.76],[294,0.77],[296,0.78],[298,0.77],[300,0.79],[305,0.81],[310,0.83],[315,0.84],[320,0.85],[325,0.86],[330,0.85],[335,0.86],[340,0.87],[345,0.82],[350,0.85],[355,0.86],[360,0.84],[365,0.86],[370,0.87],[375,0.86],[380,0.88],[385,0.87],[390,0.89],[395,0.88],[400,0.87],[405,0.84],[410,0.88],[415,0.89],[420,0.9],[425,0.91],[430,0.9],[435,0.92],[440,0.91],[445,0.93],[450,0.92],[455,0.94],[460,0.93],[465,0.92],[470,0.94],[475,0.93],[480,0.95],[485,0.94],[490,0.91],[495,0.91],[500,0.92],[505,0.93]];
const f_qmix_band = [[150,0,0.01],[180,0,0.05],[200,0,0.1],[220,0,0.2],[230,0.02,0.3],[240,0.05,0.5],[250,0.1,0.75],[260,0.25,0.8],[270,0.4,0.85],[280,0.6,0.88],[290,0.7,0.88],[300,0.75,0.9],[320,0.78,0.92],[340,0.8,0.93],[360,0.8,0.93],[380,0.84,0.94],[400,0.85,0.95],[420,0.86,0.96],[440,0.87,0.96],[460,0.88,0.97],[480,0.89,0.97],[500,0.88,0.96]];
const f_ndq = [[0,0],[500,0]];
const f_wq = [[0,0],[130,0.002],[140,0.005],[145,0.01],[150,0.015],[155,0.02],[158,0.03],[160,0.02],[165,0.01],[170,0.005],[175,0.01],[180,0.02],[185,0.03],[190,0.05],[195,0.045],[200,0.06],[205,0.065],[210,0.08],[215,0.09],[220,0.1],[225,0.11],[230,0.13],[235,0.15],[240,0.17],[243,0.16],[246,0.14],[250,0.18],[255,0.21],[260,0.23],[265,0.24],[270,0.23],[275,0.27],[280,0.3],[285,0.34],[288,0.38],[290,0.37],[293,0.35],[296,0.36],[300,0.33],[303,0.34],[306,0.37],[310,0.39],[313,0.4],[316,0.38],[320,0.42],[325,0.46],[330,0.5],[333,0.55],[336,0.52],[340,0.54],[343,0.58],[346,0.6],[350,0.58],[353,0.56],[356,0.55],[360,0.57],[363,0.56],[366,0.6],[370,0.63],[373,0.62],[376,0.65],[380,0.66],[383,0.72],[386,0.76],[390,0.7],[393,0.67],[396,0.65],[400,0.7],[403,0.72],[406,0.75],[410,0.7],[413,0.72],[416,0.68],[420,0.7],[423,0.68],[426,0.72],[430,0.7],[433,0.72],[436,0.78],[440,0.8],[443,0.76],[446,0.72],[450,0.7],[453,0.75],[456,0.72],[460,0.78],[463,0.76],[466,0.74],[470,0.77],[473,0.72],[476,0.74],[480,0.8],[483,0.75],[486,0.73],[490,0.76],[493,0.74],[496,0.77],[500,0.8]];
const f_wq_band = [[130,0,0.01],[150,0,0.03],[170,0,0.03],[190,0,0.08],[210,0,0.15],[230,0,0.3],[250,0,0.5],[260,0,0.6],[270,0,0.7],[280,0.02,0.75],[290,0.05,0.82],[300,0.1,0.8],[310,0.15,0.75],[320,0.18,0.7],[330,0.3,0.75],[340,0.4,0.78],[350,0.45,0.8],[360,0.48,0.82],[370,0.5,0.85],[380,0.55,0.88],[390,0.6,0.88],[400,0.62,0.88],[420,0.62,0.88],[440,0.65,0.9],[460,0.65,0.9],[480,0.68,0.9],[500,0.7,0.92]];
const f_vdac = [[0,0],[500,0]];
const f_fop = [[0,0],[500,0]];
const f_dop = [[0,0],[415,0],[418,0.01],[421,0],[430,0],[433,0.01],[436,0],[455,0],[458,0.015],[461,0.02],[464,0.015],[467,0.03],[470,0.02],[473,0.025],[476,0.015],[479,0.02],[482,0.01],[485,0.005],[488,0],[491,0.01],[494,0.015],[497,0.005],[500,0]];
const f_dop_band = [[455,0,0.005],[460,0,0.04],[470,0,0.06],[480,0,0.04],[490,0,0.03],[500,0,0.02]];

// ---------- tick labels / captions ----------
const captions = ["(a) 27m_vs_30m (hard)","(b) 3s_vs_5z (hard)","(c) 5m_vs_6m (hard)","(d) 6h_vs_8z (super hard)","(e) MMM2 (super hard)","(f) corridor (super hard)"];
const xTicksA = [0,25,50,75,100,125,150,175,200];
const xTicksB = [0,50,100,150,200,250,300];
const xTicksC = [0,50,100,150,200,250,300,350,400];
const xTicksD = [0,100,200,300,400,500];
const yTicks02 = [0,0.2,0.4,0.6,0.8,1.0];
const yTicksB = [0,0.1,0.2,0.3,0.4,0.5,0.6,0.7,0.8];
const yTicksC = [0,0.2,0.4,0.6,0.8];
const yTicksD = [0,0.1,0.2,0.3,0.4,0.5,0.6];

// ---------- layout ----------
const panels = [
  {frame:[42,7,396,268], xd:[0,200], xr:[58.3,375], yd:[0,1.0], yr:[257,17.7], xt:xTicksA, yt:yTicks02, cap:[204,333,207], fs:9,
   lines:[a_lsf,a_qmix,a_ndq,a_wq,a_vdac,a_fop,a_dop], bands:[a_lsf_band,a_qmix_band,null,a_wq_band,a_vdac_band,null,a_dop_band]},
  {frame:[448,10,802,268], xd:[0,300], xr:[464,786.7], yd:[0,0.8], yr:[257,23.3], xt:xTicksB, yt:yTicksB, cap:[609.5,333,171], fs:9,
   lines:[b_lsf,b_qmix,b_ndq,b_wq,b_vdac,b_fop,b_dop], bands:[b_lsf_band,b_qmix_band,null,b_wq_band,null,null,null]},
  {frame:[853,9,1208,268], xd:[0,400], xr:[869.7,1192.7], yd:[0,0.8], yr:[257,33.7], xt:xTicksC, yt:yTicksC, cap:[1015,333,185], fs:9,
   lines:[c_lsf,c_qmix,c_ndq,c_wq,c_vdac,c_fop,c_dop], bands:[c_lsf_band,c_qmix_band,c_ndq_band,c_wq_band,c_vdac_band,c_fop_band,c_dop_band],
   lineColors:{2:"#138a13"}, bandAlpha:{6:0.1}},
  {frame:[42,347,396,606], xd:[0,500], xr:[58.3,380.7], yd:[0,0.6], yr:[594,369.3], xt:xTicksD, yt:yTicksD, cap:[203.7,670,226], fs:9,
   lines:[d_lsf,d_qmix,d_ndq,d_wq,d_vdac,d_fop,d_dop], bands:[d_lsf_band,d_qmix_band,null,d_wq_band,null,null,null]},
  {frame:[448,347,802,605], xd:[0,200], xr:[464,787.7], yd:[0,1.0], yr:[594,349], xt:xTicksA, yt:yTicks02, cap:[609.5,670,211], fs:9,
   lines:[e_lsf,e_qmix,e_ndq,e_wq,e_vdac,e_fop,e_dop], bands:[e_lsf_band,e_qmix_band,null,e_wq_band,e_vdac_band,e_fop_band,e_dop_band]},
  {frame:[849,348,1208,610], xd:[0,500], xr:[866,1189.3], yd:[0,1.0], yr:[598,359.3], xt:xTicksD, yt:yTicks02, cap:[1015.3,670,211], fs:8,
   lines:[f_lsf,f_qmix,f_ndq,f_wq,f_vdac,f_fop,f_dop], bands:[f_lsf_band,f_qmix_band,null,f_wq_band,null,null,f_dop_band],
   lineColors:{2:"#0b700b"}, legendColors:{2:"#0b700b",6:"#8e3b80"}}
];

const svg = d3.select("#c");
const sans = "'Liberation Sans', Arial, Helvetica, sans-serif";
const serif = "'Liberation Serif', 'Times New Roman', Times, serif";
svg.append("rect").attr("width",1210).attr("height",677).attr("fill","#fff");
const defs = svg.append("defs");

panels.forEach((p, pi) => {
  const [L,T,R,B] = p.frame;
  const x = d3.scaleLinear().domain(p.xd).range(p.xr);
  const y = d3.scaleLinear().domain(p.yd).range(p.yr);
  const g = svg.append("g");
  const clipId = "clip" + pi;
  defs.append("clipPath").attr("id", clipId).append("rect")
    .attr("x", L).attr("y", T).attr("width", R - L).attr("height", B - T);

  const ax = g.append("g").attr("transform", `translate(0,${B})`)
    .call(d3.axisBottom(x).tickValues(p.xt).tickSize(-(B - T)).tickPadding(8).tickFormat(d3.format("d")));
  const ay = g.append("g").attr("transform", `translate(${L},0)`)
    .call(d3.axisLeft(y).tickValues(p.yt).tickSize(-(R - L)).tickPadding(7).tickFormat(d3.format(".1f")));
  [ax, ay].forEach(a => {
    a.select(".domain").remove();
    a.selectAll(".tick line").attr("stroke", "#dcdcdc").attr("stroke-width", 1);
    a.selectAll(".tick text").attr("fill", "#333").style("font-family", sans).style("font-size", p.fs + "px");
  });
  g.append("rect").attr("x", L).attr("y", T).attr("width", R - L).attr("height", B - T)
    .attr("fill", "none").attr("stroke", "#d4d4d4").attr("stroke-width", 1.3);

  const plot = g.append("g").attr("clip-path", `url(#${clipId})`);
  const area = d3.area().x(d => x(d[0])).y0(d => y(d[1])).y1(d => y(d[2]));
  const line = d3.line().x(d => x(d[0])).y(d => y(d[1]));
  const colorOf = i => (p.lineColors && p.lineColors[i]) || seriesColors[i];

  p.bands.forEach((b, i) => {
    if (!b) return;
    const al = (p.bandAlpha && p.bandAlpha[i] !== undefined) ? p.bandAlpha[i] : bandAlpha[i];
    plot.append("path").datum(b).attr("d", area).attr("fill", colorOf(i)).attr("fill-opacity", al).attr("stroke", "none");
  });
  p.lines.forEach((l, i) => {
    plot.append("path").datum(l).attr("d", line).attr("fill", "none")
      .attr("stroke", colorOf(i)).attr("stroke-width", 1.35).attr("stroke-linejoin", "round");
  });

  g.append("text").attr("x", (L + R) / 2).attr("y", B + 26).attr("text-anchor", "middle")
    .style("font-family", sans).style("font-size", (p.fs + 0.3) + "px").attr("fill", "#333").text("T (10k)");
  g.append("text").attr("transform", `translate(${L - 27},${(T + B) / 2}) rotate(-90)`).attr("text-anchor", "middle")
    .style("font-family", sans).style("font-size", (pi === 5 ? 7.6 : 9.2) + "px").attr("fill", "#333").text("test win rate %");

  const lx = L + 7, ly = T + 7;
  const lg = g.append("g");
  lg.append("rect").attr("x", lx).attr("y", ly).attr("width", 108).attr("height", 141).attr("rx", 3)
    .attr("fill", "#eaeaf2").attr("fill-opacity", 0.82).attr("stroke", "#d4d4dc").attr("stroke-width", 0.8);
  seriesNames.forEach((n, i) => {
    const cy = ly + 11.5 + i * 19.35;
    const lc = (p.legendColors && p.legendColors[i]) || seriesColors[i];
    lg.append("line").attr("x1", lx + 5).attr("x2", lx + 33).attr("y1", cy).attr("y2", cy)
      .attr("stroke", lc).attr("stroke-width", (p.legendColors && p.legendColors[i]) ? 2.2 : 1.6);
    lg.append("text").attr("x", lx + 44).attr("y", cy + 5).style("font-family", sans).style("font-size", "13.6px")
      .attr("fill", "#222").text(n);
  });

  svg.append("text").attr("x", p.cap[0]).attr("y", p.cap[1]).attr("text-anchor", "middle")
    .attr("textLength", p.cap[2]).attr("lengthAdjust", "spacingAndGlyphs")
    .style("font-family", serif).style("font-size", "18px").attr("fill", "#000").text(captions[pi]);
});
</script>
</body></html>
